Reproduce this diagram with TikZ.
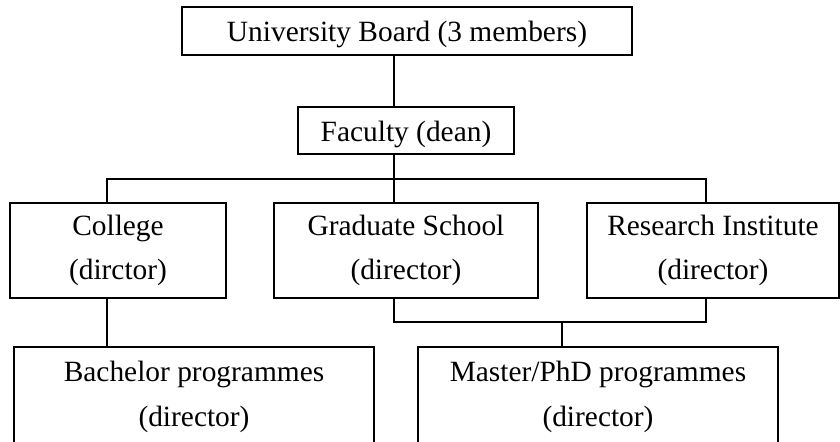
\documentclass[tikz,border=0pt]{standalone}
\usepackage{fontspec}
\setmainfont{Liberation Serif}
\usepackage{tikz}

\begin{document}
\begin{tikzpicture}[
    block/.style={draw, line width=0.7pt, inner sep=0pt, align=center,
      font=\fontsize{14.7}{22.25}\selectfont},
    oneline/.style={block, text height=11pt, text depth=0pt},
    link/.style={line width=0.55pt},
    x=0.5pt,y=-0.5pt
    ]
    \clip (0, 0) rectangle (840, 442);
    \node[oneline, minimum width=225pt, minimum height=24pt] (board) at (407, 31) {University Board (3 members)};
    \node[oneline, minimum width=108pt, minimum height=23.5pt] (faculty) at (406, 130.5) {Faculty (dean)};
    \node[block, minimum width=108pt, minimum height=47.5pt] (college) at (118, 250.5) {College\\(dirctor)};
    \node[block, minimum width=132pt, minimum height=47.5pt] (grad) at (406, 250.5) {Graduate School\\(director)};
    \node[block, minimum width=126pt, minimum height=47.5pt] (research) at (713, 250.5) {Research Institute\\(director)};
    \node[block, minimum width=180pt, minimum height=50pt] (bachelor) at (194, 397) {Bachelor programmes\\(director)};
    \node[block, minimum width=180pt, minimum height=50pt] (master) at (598, 397) {Master/PhD programmes\\(director)};

    \coordinate (spine) at (394, 179);
    \coordinate (busl) at (107, 179);
    \coordinate (busr) at (706, 179);
    \coordinate (join) at (562, 322);

    \draw[link] (board.south -| spine) -- (faculty.north -| spine);
    \draw[link] (faculty.south -| spine) -- (grad.north -| spine);
    \draw[link] (college.north -| busl) -- (busl) -- (busr) -- (research.north -| busr);
    \draw[link] (college.south -| busl) -- (bachelor.north -| busl);
    \draw[link] (grad.south -| spine) -- (spine |- join) -- (busr |- join) -- (research.south -| busr);
    \draw[link] (join) -- (master.north -| join);
  \end{tikzpicture}
\end{document}
